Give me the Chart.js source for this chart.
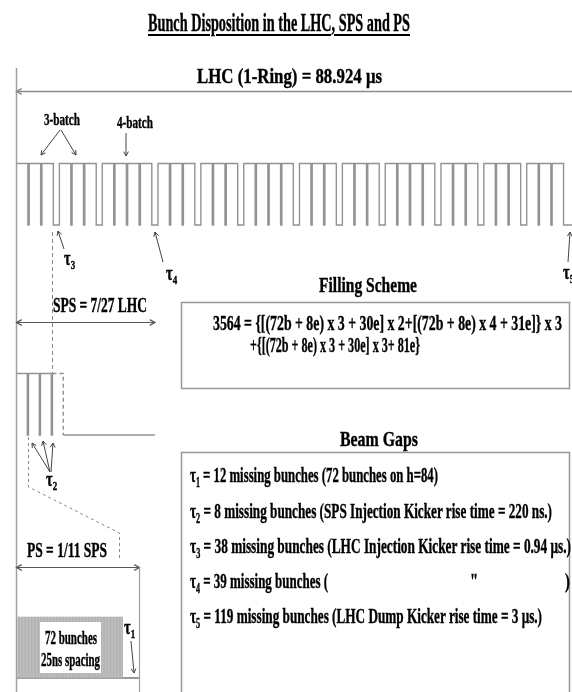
<!DOCTYPE html>
<html><head><meta charset="utf-8">
<script src="https://cdn.jsdelivr.net/npm/chart.js@4.4.1/dist/chart.umd.min.js"></script>
<style>
html,body{margin:0;padding:0;background:#fff;}
#wrap{position:relative;width:572px;height:692px;overflow:hidden;background:#fff;}
#c{position:absolute;left:0;top:0;}
.t{position:absolute;white-space:nowrap;font-family:"Liberation Serif","Times New Roman",serif;font-weight:bold;color:#000;line-height:1;-webkit-text-stroke:0.4px #000;}
.t sub{font-size:0.62em;vertical-align:-0.35em;line-height:0;}
.u{text-decoration:underline;text-decoration-thickness:2px;text-underline-offset:3px;}
</style></head><body>
<div id="wrap"><canvas id="c" width="572" height="692"></canvas><div id="txt"></div></div>
<script>
// ---- DATA: LHC filling scheme 3564 = {[(72b+8e)x3+30e]x2+[(72b+8e)x4+31e]}x3 + {[(72b+8e)x3+30e]x3+81e}
const batchesPerInjection = [3,3,4, 3,3,4, 3,3,4, 3,3,3];
const injectionGaps       = [30,30,31, 30,30,31, 30,30,31, 30,30,30];
const bunchesPerBatch = 72;
const batchGap = 8;
const dumpGap = 81;
const lhcSlots = 3564;
// SPS: 7/27 of LHC, up to 4 batches (4th drawn dashed)
const spsSlots = 924;
const spsBatches = 4;
// PS: 72 bunches on h=84
const psBunches = 72;
const psHarmonic = 84;

// ---- build step points from the arrays
const lhcPts = [];
let s = 0;
batchesPerInjection.forEach((nb, i) => {
  for (let b = 0; b < nb; b++) {
    lhcPts.push({x: s, y: 1});
    lhcPts.push({x: s + bunchesPerBatch, y: 0});
    s += bunchesPerBatch + batchGap;
  }
  s += injectionGaps[i];
});
s += dumpGap;
lhcPts.push({x: s, y: 0});

const spsPts = [];
for (let b = 0; b < spsBatches; b++) {
  spsPts.push({x: b * (bunchesPerBatch + batchGap), y: 1});
  spsPts.push({x: b * (bunchesPerBatch + batchGap) + bunchesPerBatch, y: 0});
}
spsPts.push({x: spsSlots, y: 0});
const spsDashFrom = (spsBatches - 1) * (bunchesPerBatch + batchGap);

const psPts = [];
for (let i = 0; i < psBunches; i++) psPts.push({x: i + 0.5, y: 1});
const psRing = [{x: 0, y: 0}, {x: psHarmonic, y: 0}];

// ---- layout: map value ranges onto the page
const W = 572, H = 692;
function xr(v0, p0, v1, p1) { const u = (p1 - p0) / (v1 - v0); const min = v0 - p0 / u; return {min, max: min + W / u}; }
function yr(v0, p0, v1, p1) { const u = (p0 - p1) / (v1 - v0); const min = v0 - (H - p0) / u; return {min, max: min + H / u}; }
const ax = (axis, r) => ({type: 'linear', axis, display: false, offset: false, min: r.min, max: r.max, grid: {display: false}});

const deco = {
  id: 'deco',
  afterDatasetsDraw(chart) {
    const c = chart.ctx; c.save(); c.lineCap = 'butt';
    const L = (pts, col, w, dash) => { c.beginPath(); c.strokeStyle = col; c.lineWidth = w; c.setLineDash(dash || []);
      pts.forEach((p, i) => i ? c.lineTo(p[0], p[1]) : c.moveTo(p[0], p[1])); c.stroke(); c.setLineDash([]); };
    const head = (x1, y1, x2, y2, col, w, len) => { const a = Math.atan2(y2 - y1, x2 - x1);
      L([[x2 - len * Math.cos(a - 0.5), y2 - len * Math.sin(a - 0.5)], [x2, y2], [x2 - len * Math.cos(a + 0.5), y2 - len * Math.sin(a + 0.5)]], col, w); };
    const A = (x1, y1, x2, y2, col, w, len, both) => { L([[x1, y1], [x2, y2]], col, w); head(x1, y1, x2, y2, col, w, len); if (both) head(x2, y2, x1, y1, col, w, len); };
    const g = '#8c8c8c', d = '#444';
    // ring start marker
    L([[16.5, 68], [16.5, H]], '#a0a0a0', 1.5);
    // LHC ring arrow
    A(W + 5, 91.5, 16.5, 91.5, g, 1.5, 6);
    // batch labels' arrows
    A(60, 130, 41, 155, d, 1, 5); A(61, 130, 76, 155, d, 1, 5);
    A(126, 133, 126, 156, d, 1, 5);
    // tau arrows
    A(64, 249, 58, 231, d, 1, 5);
    A(163, 262, 155, 232, d, 1, 5);
    A(568, 262, 570, 232, d, 1, 5);
    // dashed link LHC -> SPS
    L([[52.5, 232], [52.5, 373]], '#888', 1, [4, 3]);
    // SPS arrow
    const xs = chart.scales.xS;
    A(16.5, 322.5, xs.getPixelForValue(spsSlots), 322.5, '#555', 1.2, 6, true);
    // tau2 arrows
    A(50, 472, 32, 443, d, 1, 5); A(50, 472, 43, 441, d, 1, 5); A(51, 472, 53, 443, d, 1, 5);
    // dashed link SPS -> PS
    L([[28.5, 437], [28.5, 487], [119.5, 533], [119.5, 560]], '#888', 1, [3, 3]);
    // PS arrow & boundary
    const xp = chart.scales.xP;
    A(16.5, 567.5, xp.getPixelForValue(psHarmonic), 567.5, '#555', 1.2, 6, true);
    L([[xp.getPixelForValue(psHarmonic), 567], [xp.getPixelForValue(psHarmonic), H]], '#a0a0a0', 1.2);
    // tau1 arrow
    A(131, 641, 134, 673, d, 1, 5);
    // white label box over the PS bunches
    c.fillStyle = '#fff'; c.fillRect(40, 622, 61, 51);
    // text boxes
    c.strokeStyle = '#999'; c.lineWidth = 1.5;
    c.strokeRect(181.5, 302.5, 388, 86);
    L([[181.5, H + 2], [181.5, 452.5], [569.5, 452.5], [569.5, H + 2]], '#999', 1.5);
    c.restore();
  }
};

new Chart(document.getElementById('c'), {
  type: 'line',
  data: {datasets: [
    {type: 'line', data: lhcPts, xAxisID: 'xL', yAxisID: 'yL', stepped: true, borderColor: '#939393', borderWidth: 1.4, pointRadius: 0, fill: false},
    {type: 'line', data: spsPts, xAxisID: 'xS', yAxisID: 'yS', stepped: true, borderColor: '#939393', borderWidth: 1.4, pointRadius: 0, fill: false,
      segment: {borderDash: ctx => (ctx.p0.parsed.x >= spsDashFrom && ctx.p0.parsed.y === 1) ? [4, 3] : undefined}},
    {type: 'bar', data: psPts, xAxisID: 'xP', yAxisID: 'yP', backgroundColor: '#b4b4b4', borderWidth: 0, barThickness: 1},
    {type: 'line', data: psRing, xAxisID: 'xP', yAxisID: 'yP', borderColor: '#777', borderWidth: 1.5, pointRadius: 0, fill: false}
  ]},
  options: {
    responsive: false, animation: false, events: [],
    layout: {padding: 0},
    plugins: {legend: {display: false}, tooltip: {enabled: false}, title: {display: false}},
    scales: {
      xL: ax('x', xr(0, 16.5, lhcSlots, 16.5 + lhcSlots * 0.1588)),
      yL: ax('y', yr(0, 225, 1, 163.5)),
      xS: ax('x', xr(0, 16.5, spsSlots, 155)),
      yS: ax('y', yr(0, 435, 1, 373.5)),
      xP: ax('x', xr(0, 16.5, psHarmonic, 139.5)),
      yP: ax('y', yr(0, 678, 1, 617))
    }
  },
  plugins: [deco]
});

// ---- text (real HTML text), condensed to match the reference
const texts = [
  {s: 'Bunch Disposition in the LHC, SPS and PS', x: 148, w: 262, b: 31, f: 25, u: true},
  {s: 'LHC (1-Ring) = 88.924 μs', x: 197, w: 185, b: 84, f: 21},
  {s: '3-batch', x: 44, w: 36, b: 125, f: 17},
  {s: '4-batch', x: 117, w: 36, b: 128, f: 17},
  {s: 'τ<sub>3</sub>', x: 64, b: 265, f: 20, k: 0.72},
  {s: 'τ<sub>4</sub>', x: 166, b: 280, f: 20, k: 0.72},
  {s: 'τ<sub>5</sub>', x: 563, b: 279, f: 20, k: 0.72},
  {s: 'Filling Scheme', x: 319, w: 98, b: 292, f: 22},
  {s: '3564 = {[(72b + 8e) x 3 + 30e] x 2+[(72b + 8e) x 4 + 31e]} x 3', x: 213, w: 349, b: 330, f: 22},
  {s: '+{[(72b + 8e) x 3 + 30e] x 3+ 81e}', x: 250, w: 170, b: 352, f: 22},
  {s: 'SPS = 7/27 LHC', x: 53, w: 94, b: 312, f: 22},
  {s: 'Beam Gaps', x: 340, w: 78, b: 446, f: 22},
  {s: 'τ<sub>1</sub> = 12 missing bunches (72 bunches on h=84)', x: 190, w: 248, b: 482, f: 22},
  {s: 'τ<sub>2</sub> = 8 missing bunches (SPS Injection Kicker rise time = 220 ns.)', x: 190, w: 362, b: 518, f: 22},
  {s: 'τ<sub>3</sub> = 38 missing bunches (LHC Injection Kicker rise time = 0.94 μs.)', x: 190, w: 381, b: 553, f: 22},
  {s: 'τ<sub>4</sub> = 39 missing bunches (', x: 190, w: 138, b: 588, f: 22},
  {s: '"', x: 470, b: 588, f: 22, k: 0.66},
  {s: ')', x: 565, b: 588, f: 22, k: 0.66},
  {s: 'τ<sub>5</sub> = 119 missing bunches (LHC Dump Kicker rise time = 3 μs.)', x: 190, w: 352, b: 623, f: 22},
  {s: 'τ<sub>2</sub>', x: 46, b: 486, f: 20, k: 0.72},
  {s: 'PS = 1/11 SPS', x: 27, w: 80, b: 557, f: 22},
  {s: '72 bunches', x: 45, w: 52, b: 644, f: 19},
  {s: '25ns spacing', x: 41, w: 59, b: 666, f: 19},
  {s: 'τ<sub>1</sub>', x: 124, b: 634, f: 20, k: 0.72}
];
const box = document.getElementById('txt');
texts.forEach(t => {
  const e = document.createElement('div');
  e.className = 't' + (t.u ? ' u' : '');
  e.innerHTML = t.s;
  e.style.fontSize = t.f + 'px';
  e.style.left = t.x + 'px';
  e.style.top = (t.b - 0.8375 * t.f) + 'px';
  e.style.transformOrigin = '0 0';
  box.appendChild(e);
  const k = t.w ? t.w / e.getBoundingClientRect().width : t.k;
  e.style.transform = 'scaleX(' + k + ')';
});
</script></body></html>
